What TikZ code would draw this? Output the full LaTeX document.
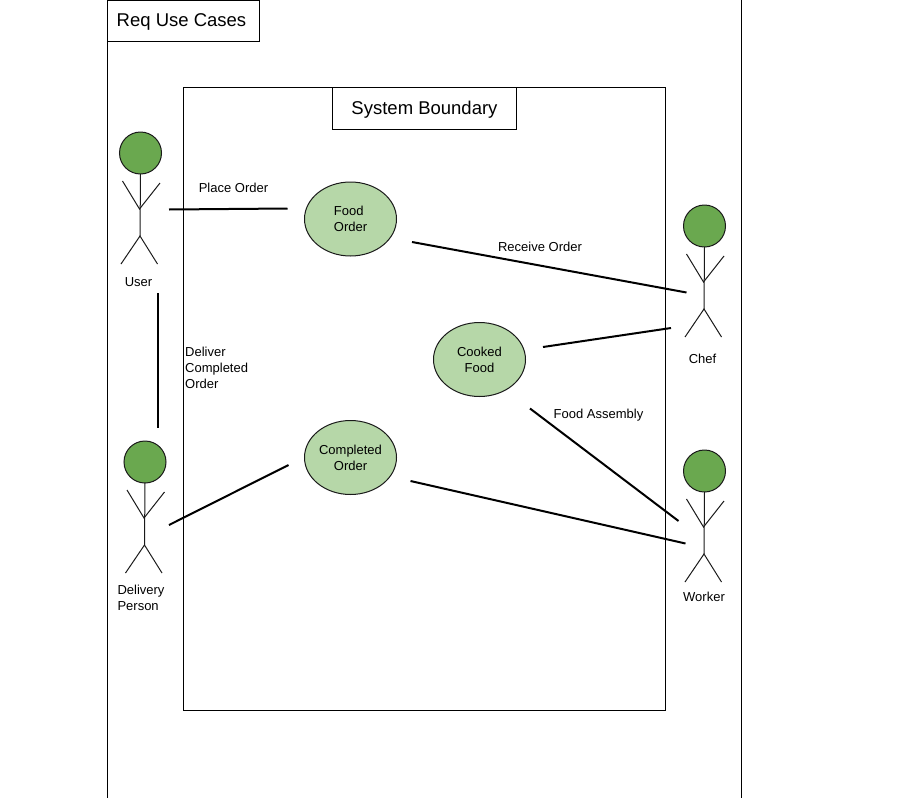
\documentclass[tikz,border=0pt]{standalone}
\usepackage{fontspec}
\usepackage{xcolor}
\usetikzlibrary{shapes.geometric}
\setmainfont{Liberation Sans}
\definecolor{HeadGreen}{HTML}{6AA84F}
\definecolor{CaseGreen}{HTML}{B6D7A8}
\definecolor{LineDark}{HTML}{1A1A1A}

\tikzset{
  titlebox/.style={draw=black, line width=1pt, anchor=north west, inner sep=0pt, outer sep=0pt,
    text height=13pt, text depth=1pt, font=\fontsize{18.5}{22}\selectfont},
  usecase/.style={draw=LineDark, fill=CaseGreen, ellipse, line width=1pt, inner sep=0pt, outer sep=0pt,
    minimum width=92pt, minimum height=74pt, align=center,
    font=\fontsize{13}{16}\selectfont},
  lbl/.style={align=center, inner sep=0pt, font=\fontsize{13}{16}\selectfont},
  assoc/.style={draw=black, line width=2pt},
  pics/stickman/.style={code={
    \node[draw=LineDark, fill=HeadGreen, circle, line width=1pt, inner sep=0pt, outer sep=0pt,
      minimum size=42pt] (-head) at (0,0) {};
    \draw[draw=LineDark, line width=1pt] (-head.south) -- (-0.5,83);
    \draw[draw=LineDark, line width=1pt] (-18,28) -- (-1,56) -- (19.5,30);
    \draw[draw=LineDark, line width=1pt] (-19.5,111) -- (-0.5,83) -- (17,111);
  }}
}

\begin{document}
\begin{tikzpicture}[x=1pt,y=-1pt]
  \useasboundingbox (0,0) rectangle (910,798);

  % outer frame
  \draw[line width=1pt] (107.5,0) -- (107.5,798);
  \draw[line width=1pt] (741.5,0) -- (741.5,798);
  \node[titlebox, minimum width=152pt, minimum height=41.5pt] (reqbox) at (107.5,0) {Req Use Cases\hspace{4pt}\null};

  % system boundary
  \node[draw=black, line width=1pt, anchor=north west, inner sep=0pt, outer sep=0pt,
    minimum width=482pt, minimum height=623pt] (boundary) at (183.5,87.5) {};
  \node[titlebox, minimum width=184pt, minimum height=42pt] (sysbox) at (332.5,87.5) {System Boundary};

  % actors
  \pic (user) at (140.5,153) {stickman};
  \pic (chef) at (704.5,226) {stickman};
  \pic (delivery) at (145,462) {stickman};
  \pic (worker) at (704.5,471) {stickman};
  \node[lbl] (userlbl) at (138.5,282) {User};
  \node[lbl] (cheflbl) at (702.5,359) {Chef};
  \node[lbl, align=left] (deliverylbl) at (141,597.5) {Delivery\\Person};
  \node[lbl] (workerlbl) at (704,596.5) {Worker};

  % use cases
  \node[usecase, align=left] (food) at (350.5,219) {Food\\Order};
  \node[usecase] (cooked) at (479.5,359.5) {Cooked\\Food};
  \node[usecase] (completed) at (350.5,457.5) {Completed\\Order};

  % connector ends
  \coordinate (userA) at (169,209.5);
  \coordinate (foodA) at (287.5,208.5);
  \coordinate (foodB) at (412,242);
  \coordinate (chefA) at (686.5,292.5);
  \coordinate (cookedA) at (543,347);
  \coordinate (chefB) at (671,328);
  \coordinate (cookedB) at (530,408.5);
  \coordinate (workerA) at (678.5,521);
  \coordinate (completedA) at (410.5,481);
  \coordinate (workerB) at (685.5,543.5);
  \coordinate (deliveryA) at (169,525);
  \coordinate (completedB) at (288.5,465);
  \coordinate (userB) at (157.5,293);
  \coordinate (deliveryB) at (157.5,428);

  \draw[assoc] (userA) -- (foodA);
  \draw[assoc] (foodB) -- (chefA);
  \draw[assoc] (cookedA) -- (chefB);
  \draw[assoc] (cookedB) -- (workerA);
  \draw[assoc] (completedA) -- (workerB);
  \draw[assoc] (deliveryA) -- (completedB);
  \draw[assoc] (userB) -- (deliveryB);

  % connector labels
  \node[lbl] (placelbl) at (233.5,187.5) {Place Order};
  \node[lbl] (receivelbl) at (540,246.5) {Receive Order};
  \node[lbl] (assemblylbl) at (598.5,415) {Food Assembly};
  \node[lbl, align=left, anchor=west] (deliverlbl) at (185,368) {Deliver\\Completed\\Order};
\end{tikzpicture}
\end{document}
